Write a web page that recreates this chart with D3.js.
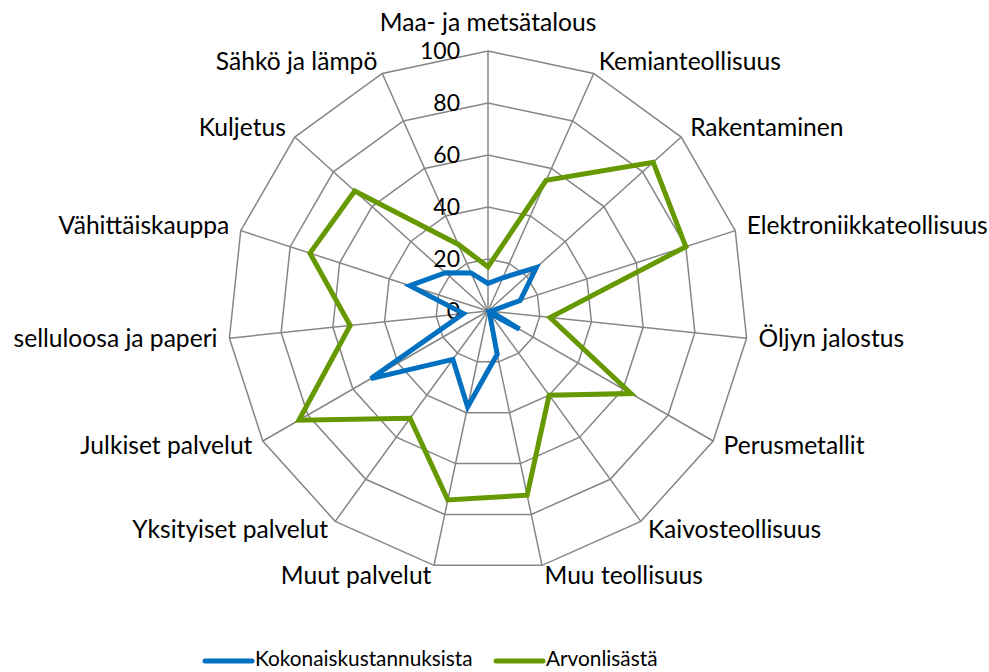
<!DOCTYPE html>
<html>
<head>
    <title>Radar chart</title>
    <script src="https://d3js.org/d3.v7.min.js"></script>
    <style>
        body {
            margin: 0;
            padding: 0;
            background: white;
            font-family: Lato, "Open Sans", sans-serif;
        }
        .grid {
            fill: none;
            stroke: #868686;
            stroke-width: 1.5;
        }
        .series {
            fill: none;
            stroke-width: 5;
            stroke-linejoin: miter;
            stroke-linecap: round;
        }
        .cat-label {
            font-size: 24.6px;
            fill: #000;
        }
        .tick-label {
            font-size: 23px;
            fill: #000;
        }
        .legend-label {
            font-size: 20.8px;
            fill: #000;
        }
    </style>
</head>
<body>
    <div id="chart"></div>

    <script>
        const categories = ["Maa- ja metsätalous", "Kemianteollisuus", "Rakentaminen", "Elektroniikkateollisuus",
            "Öljyn jalostus", "Perusmetallit", "Kaivosteollisuus", "Muu teollisuus", "Muut palvelut",
            "Yksityiset palvelut", "Julkiset palvelut", "selluloosa ja paperi", "Vähittäiskauppa",
            "Kuljetus", "Sähkö ja lämpö"];
        const kokonaiskustannuksista = [10.6, 14, 25, 13, 1, 14, 1, 17, 37.7, 23, 52, 9.5, 31.6, 22, 16];
        const arvonlisasta = [17, 55, 85.5, 80, 24, 63.5, 40, 72.4, 74.3, 51, 84, 53.3, 72, 69, 28];
        const ticks = [0, 20, 40, 60, 80, 100];
        const seriesNames = ["Kokonaiskustannuksista", "Arvonlisästä"];
        const seriesColors = ["#0070C0", "#669900"];

        const width = 989, height = 672;
        const cx = 488, cy = 311, radius = 260;

        var svg = d3.select("#chart").append("svg")
            .attr("width", width)
            .attr("height", height);

        var rScale = d3.scaleLinear().domain([0, 100]).range([0, radius]);
        var angle = d3.scaleLinear().domain([0, categories.length]).range([0, 2 * Math.PI]);

        function pointAt(i, v) {
            var a = angle(i), r = rScale(v);
            return [cx + r * Math.sin(a), cy - r * Math.cos(a)];
        }

        var g = svg.append("g");

        // rings
        ticks.filter(t => t > 0).forEach(t => {
            g.append("polygon")
                .attr("class", "grid")
                .attr("points", categories.map((c, i) => pointAt(i, t).join(",")).join(" "));
        });

        // spokes
        g.selectAll(".spoke")
            .data(categories)
            .enter().append("line")
            .attr("class", "grid")
            .attr("x1", cx).attr("y1", cy)
            .attr("x2", (d, i) => pointAt(i, 100)[0])
            .attr("y2", (d, i) => pointAt(i, 100)[1]);

        // tick labels
        g.selectAll(".tick-label")
            .data(ticks)
            .enter().append("text")
            .attr("class", "tick-label")
            .attr("x", cx - 28)
            .attr("y", d => cy - rScale(d))
            .attr("dy", "0.35em")
            .style("text-anchor", "end")
            .text(d => d);

        // category labels, a bit outside the outer ring
        g.selectAll(".cat-label")
            .data(categories)
            .enter().append("text")
            .attr("class", "cat-label")
            .each(function(d, i) {
                var s = Math.sin(angle(i));
                var p = pointAt(i, 100 + 12 / radius * 100);
                var el = d3.select(this).attr("x", p[0]).attr("y", p[1]);
                if (Math.abs(s) < 0.01) {
                    el.attr("y", p[1] - 8).style("text-anchor", "middle");
                } else {
                    el.attr("dy", "0.3em").style("text-anchor", s > 0 ? "start" : "end");
                }
            })
            .text(d => d);

        // series
        var line = d3.line().curve(d3.curveLinearClosed);
        [kokonaiskustannuksista, arvonlisasta].forEach((vals, k) => {
            g.append("path")
                .attr("class", "series")
                .attr("stroke", seriesColors[k])
                .attr("d", line(vals.map((v, i) => pointAt(i, v))));
        });

        // legend
        var legendX = [205, 496];
        seriesNames.forEach((name, k) => {
            var lg = svg.append("g").attr("transform", "translate(" + legendX[k] + ",661)");
            lg.append("line")
                .attr("x1", 0).attr("x2", 47)
                .attr("stroke", seriesColors[k])
                .attr("stroke-width", 5)
                .attr("stroke-linecap", "round");
            lg.append("text")
                .attr("class", "legend-label")
                .attr("x", 50)
                .attr("y", 5)
                .text(name);
        });
    </script>
</body>
</html>
